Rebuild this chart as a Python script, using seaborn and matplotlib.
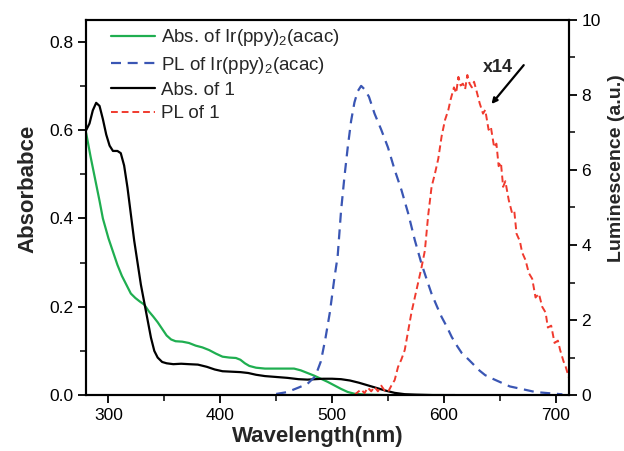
import pandas as pd
import seaborn as sns
import matplotlib.pyplot as plt
from matplotlib.ticker import MultipleLocator

# Absorption of compound 1 (left axis)
abs1_wl = [280, 283, 286, 289, 292, 295, 298, 301, 304, 308, 311, 314, 317, 320, 323, 326, 329,
           332, 335, 338, 341, 344, 348, 352, 358, 365, 372, 380, 388, 395, 402, 410, 418, 425,
           432, 440, 450, 460, 470, 478, 485, 492, 500, 508, 516, 524, 532, 540, 548, 556, 565,
           575, 590, 610]
abs1_val = [0.600, 0.615, 0.645, 0.662, 0.655, 0.625, 0.590, 0.565, 0.553, 0.553, 0.548, 0.520,
            0.470, 0.410, 0.350, 0.300, 0.250, 0.210, 0.170, 0.130, 0.100, 0.085, 0.075, 0.072,
            0.070, 0.071, 0.070, 0.069, 0.064, 0.058, 0.054, 0.053, 0.052, 0.050, 0.046, 0.043,
            0.041, 0.039, 0.036, 0.035, 0.036, 0.037, 0.037, 0.036, 0.033, 0.028, 0.022, 0.016,
            0.010, 0.005, 0.002, 0.001, 0.0, 0.0]

# Absorption of Ir(ppy)2(acac) (left axis)
absir_wl = [280, 284, 288, 292, 295, 300, 304, 308, 312, 316, 320, 324, 328, 332, 336, 340, 344,
            348, 352, 356, 360, 366, 372, 378, 384, 390, 396, 402, 408, 414, 418, 422, 426, 432,
            440, 450, 460, 466, 472, 478, 484, 490, 496, 502, 508, 514, 520, 530, 545, 570, 600]
absir_val = [0.594, 0.540, 0.490, 0.440, 0.400, 0.355, 0.325, 0.295, 0.270, 0.250, 0.230, 0.220,
             0.212, 0.205, 0.190, 0.178, 0.165, 0.150, 0.135, 0.126, 0.122, 0.121, 0.118, 0.112,
             0.108, 0.102, 0.094, 0.087, 0.085, 0.084, 0.080, 0.072, 0.066, 0.062, 0.060, 0.060,
             0.060, 0.060, 0.056, 0.050, 0.044, 0.037, 0.030, 0.022, 0.014, 0.007, 0.003, 0.001,
             0.0, 0.0, 0.0]

# PL of Ir(ppy)2(acac) (right axis)
plir_wl = [450, 460, 470, 478, 485, 490, 494, 498, 502, 505, 508, 511, 514, 517, 520, 523, 526,
           529, 533, 538, 544, 550, 556, 562, 568, 574, 580, 585, 589, 594, 598, 603, 607, 612,
           616, 622, 627, 632, 637, 644, 650, 659, 670, 682, 694, 706]
plir_val = [0.03, 0.08, 0.20, 0.30, 0.50, 0.90, 1.50, 2.20, 3.10, 3.70, 4.90, 5.80, 6.60, 7.30,
            7.80, 8.10, 8.24, 8.15, 7.95, 7.50, 7.07, 6.60, 6.00, 5.47, 4.85, 4.13, 3.50, 3.05,
            2.70, 2.35, 2.08, 1.80, 1.55, 1.30, 1.12, 0.95, 0.80, 0.65, 0.53, 0.43, 0.35, 0.23,
            0.16, 0.08, 0.05, 0.02]

# PL of compound 1, x14 (right axis)
pl1_wl = [520, 523, 526, 529, 532, 535, 538, 541, 544, 547, 550, 553, 556, 559, 562, 565, 568,
          571, 574, 577, 580, 583, 586, 589, 592, 595, 598, 601, 604, 606, 609, 611, 613, 615,
          617, 619, 621, 623, 625, 627, 629, 632, 635, 637, 640, 642, 645, 647, 649, 651, 653,
          655, 658, 661, 663, 665, 668, 670, 673, 676, 679, 682, 685, 688, 691, 693, 696, 699,
          702, 704, 707, 709, 712]
pl1_val = [0.00, 0.08, 0.15, 0.05, 0.20, 0.10, 0.22, 0.10, 0.25, 0.12, 0.08, 0.25, 0.40, 0.75,
           0.95, 1.20, 1.70, 2.20, 2.60, 3.00, 3.40, 3.85, 4.80, 5.55, 5.90, 6.30, 6.90, 7.33,
           7.60, 7.87, 8.20, 8.05, 8.48, 8.25, 8.30, 8.15, 8.53, 8.30, 8.20, 8.35, 8.13, 7.78,
           7.50, 7.60, 7.07, 7.15, 6.60, 6.70, 6.10, 6.20, 5.55, 5.70, 5.20, 4.85, 4.90, 4.30,
           4.10, 3.80, 3.60, 3.25, 3.10, 2.60, 2.70, 2.35, 2.20, 1.80, 1.85, 1.39, 1.45, 1.20,
           0.90, 0.75, 0.45]

sns.set_style("ticks")
plt.rcParams['font.family'] = ['Liberation Sans', 'DejaVu Sans']
plt.rcParams['mathtext.fontset'] = 'custom'
plt.rcParams['mathtext.rm'] = 'Liberation Sans'
plt.rcParams['mathtext.it'] = 'Liberation Sans:italic'

fig = plt.figure(figsize=(6.24, 4.51), dpi=100)
ax = fig.add_axes([0.138, 0.124, 0.774, 0.832])
ax2 = ax.twinx()

green = "#1fae50"
blue = "#3a56b4"
red = "#f03a2e"

sns.lineplot(x=absir_wl, y=absir_val, ax=ax, color=green, lw=1.6, sort=False, estimator=None,
             label=r"Abs. of Ir(ppy)$_2$(acac)", legend=False)
sns.lineplot(x=abs1_wl, y=abs1_val, ax=ax, color="black", lw=1.6, sort=False, estimator=None,
             label="Abs. of 1", legend=False)
sns.lineplot(x=plir_wl, y=plir_val, ax=ax2, color=blue, lw=1.6, sort=False, estimator=None,
             label=r"PL of Ir(ppy)$_2$(acac)", legend=False)
sns.lineplot(x=pl1_wl, y=pl1_val, ax=ax2, color=red, lw=1.4, sort=False, estimator=None,
             label="PL of 1", legend=False)
ax2.lines[0].set_dashes([4.5, 3])
ax2.lines[1].set_dashes([3.5, 2])

ax.set_xlim(280, 712)
ax.set_ylim(0, 0.85)
ax2.set_ylim(0, 10)
ax.xaxis.set_major_locator(MultipleLocator(100))
ax.xaxis.set_minor_locator(MultipleLocator(50))
ax.yaxis.set_major_locator(MultipleLocator(0.2))
ax.yaxis.set_minor_locator(MultipleLocator(0.1))
ax2.yaxis.set_major_locator(MultipleLocator(2))
ax2.yaxis.set_minor_locator(MultipleLocator(1))
ax.yaxis.set_major_formatter(lambda v, p: f"{v:.1f}")

for a in (ax, ax2):
    for s in a.spines.values():
        s.set_linewidth(1.5)
        s.set_color("black")
    a.tick_params(which="major", direction="out", length=6, width=1.3, labelsize=12.5, colors="black", pad=3)
    a.tick_params(which="minor", direction="out", length=4, width=1.1, colors="black")
ax.tick_params(axis="y", right=False, which="both")
ax.tick_params(axis="x", top=False, which="both")
ax2.tick_params(axis="x", top=False, bottom=False, which="both")

ax.set_xlabel("Wavelength(nm)", fontsize=16, fontweight="bold")
ax.set_ylabel("Absorbabce", fontsize=16, fontweight="bold")
ax2.set_ylabel("Luminescence (a.u.)", fontsize=14, fontweight="bold")
ax.xaxis.set_label_coords(0.48, -0.083)
ax.yaxis.set_label_coords(-0.098, 0.55)
ax2.yaxis.set_label_coords(1.080, 0.605)

ax2.annotate("", xy=(641, 7.7), xytext=(673, 8.85),
             arrowprops=dict(arrowstyle="-|>", color="black", lw=1.6, mutation_scale=8))
ax2.text(648, 8.72, "x14", fontsize=13, fontweight="bold", ha="center", va="center")

h1, l1 = ax.get_legend_handles_labels()
h2, l2 = ax2.get_legend_handles_labels()
handles = [h1[0], h2[0], h1[1], h2[1]]
labels = [l1[0], l2[0], l1[1], l2[1]]
ax2.legend(handles, labels, loc="upper left", frameon=False, fontsize=13.5,
           handlelength=2.35, handletextpad=0.32, labelspacing=0.33,
           bbox_to_anchor=(0.035, 1.0), borderaxespad=0)

fig.savefig("out.png", dpi=100)
